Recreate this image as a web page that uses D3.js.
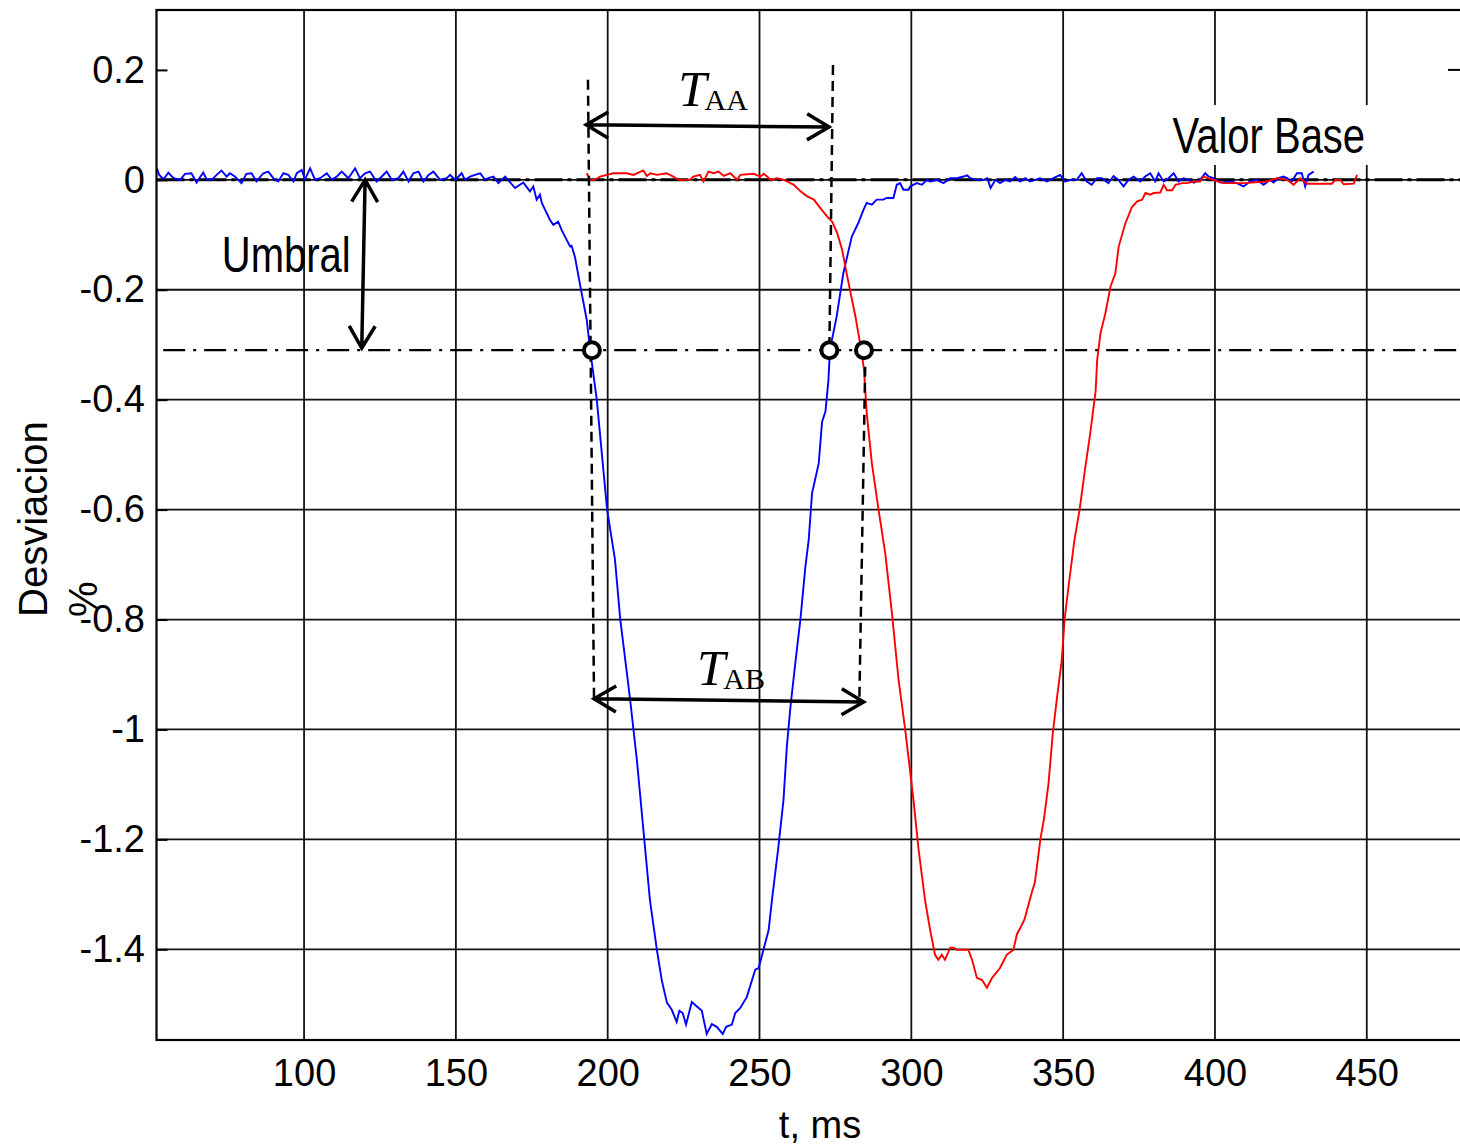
<!DOCTYPE html>
<html><head><meta charset="utf-8">
<script src="https://cdn.jsdelivr.net/npm/d3@7"></script>
<style>html,body{margin:0;padding:0;background:#fff;} svg{display:block;}</style>
</head><body>
<svg id="chart" width="1460" height="1146"></svg>
<script>
// ---- data ----
const xTicks = [100,150,200,250,300,350,400,450];
const yTicks = [0.2,0,-0.2,-0.4,-0.6,-0.8,-1,-1.2,-1.4];
const yGrid = [0,-0.2,-0.4,-0.6,-0.8,-1,-1.2,-1.4];

const blueT = [51.5,52.3,53.7,55.3,57.0,59.2,60.8,62.9,64.6,65.5,66.8,67.9,69.6,71.2,72.8,74.5,75.6,77.2,79.4,81.0,82.7,84.3,86.6,88.2,89.9,91.5,93.2,94.8,96.5,97.6,99.2,100.3,102.0,103.6,105.3,107.5,109.1,110.8,112.4,114.6,116.8,118.4,120.1,121.7,123.9,125.6,127.2,128.9,131.1,132.7,134.4,136.0,137.7,139.3,141.0,142.6,144.8,147.0,148.1,149.8,151.9,153.0,154.7,156.3,158.0,159.6,160.7,162.4,164.0,
166.2,169.5,172.2,174.4,175.5,176.6,177.7,178.3,181.0,182.1,183.7,184.8,187.6,188.1,189.2,190.8,193.1,194.2,196.4,199.8,202.4,204.1,207.4,208.5,209.6,213.9,216.2,217.8,219.5,221.1,222.7,223.6,224.7,225.8,227.7,231.0,232.6,234.3,235.9,237.9,239.0,240.9,242.0,243.6,245.8,248.6,249.7,251.3,253.0,254.1,256.1,257.9,259.0,260.2,261.8,263.5,265.1,266.2,267.3,267.8,269.5,270.6,271.7,272.7,273.2,275.4,277.6,280.4,282.5,284.2,285.3,287.0,288.6,290.8,291.9,294.1,295.2,296.3,297.4,299.1,299.6,301.8,303.5,305.1,306.2,308.4,310.6,312.8,315.0,317.2,318.4,319.4,321.6,323.8,325.0,326.1,327.7,329.2,330.9,332.5,334.2,335.8,337.5,339.1,340.8,342.4,344.6,346.8,349.0,350.6,352.8,354.5,356.1,357.8,359.4,361.1,362.7,364.9,366.6,368.2,369.9,371.5,373.2,375.4,377.0,378.7,380.3,381.4,383.1,384.7,386.4,388.0,389.7,391.3,393.0,395.1,396.8,397.9,399.5,401.7,405.0,407.2,409.4,411.6,413.8,416.0,418.2,419.3,420.9,422.6,423.7,425.3,427.0,428.6,429.7,430.8,432.5];
const blueV = [0.021,0.009,0.001,0.013,0.003,0,0.011,0.012,-0.005,0.003,0.013,0.001,0,0.009,0.017,0.006,0.012,0.006,-0.006,0.011,0.012,-0.003,0.012,0.015,0.003,-0.003,0.012,0.009,-0.003,0.012,0.018,0.001,0.021,0,0.003,0.012,0,0.006,0.015,0.003,0.021,0.003,0.012,0.015,-0.003,0.006,0.015,0,0.003,0.015,-0.003,0.012,0.015,-0.003,0.009,0.015,0,0.003,0.009,0,0.012,0,0.006,0.009,0.012,0,0.003,0.006,-0.006,
0.006,-0.015,-0.005,-0.021,-0.012,-0.036,-0.027,-0.042,-0.073,-0.082,-0.076,-0.091,-0.121,-0.120,-0.140,-0.188,-0.255,-0.309,-0.400,-0.600,-0.691,-0.798,-0.946,-1.001,-1.055,-1.310,-1.401,-1.456,-1.497,-1.510,-1.532,-1.512,-1.516,-1.537,-1.496,-1.512,-1.554,-1.536,-1.541,-1.554,-1.541,-1.537,-1.516,-1.507,-1.487,-1.437,-1.434,-1.401,-1.365,-1.310,-1.219,-1.128,-1.031,-0.958,-0.879,-0.798,-0.704,-0.655,-0.570,-0.558,-0.516,-0.440,-0.422,-0.364,-0.309,-0.249,-0.170,-0.103,-0.079,-0.055,-0.042,-0.045,-0.036,-0.036,-0.033,-0.033,-0.009,-0.006,-0.018,-0.018,-0.012,-0.006,-0.009,0,-0.003,0,-0.006,0.003,0.003,0.006,0.008,0.003,0,0,0.003,-0.015,0,-0.006,0,-0.003,0.005,-0.003,0.003,-0.003,0,0.003,-0.003,0.003,0.009,-0.003,0,0,0.012,-0.003,-0.009,0.003,0.003,-0.006,0.007,0,-0.012,0,0.006,-0.003,0.006,0.012,-0.003,0.012,-0.003,0.003,0.012,-0.003,0.003,0,-0.005,0,0.012,0.006,0.003,-0.005,-0.003,-0.006,-0.012,-0.003,0,-0.009,0,-0.005,0.003,0.006,0.003,-0.003,0.012,0.012,-0.012,0.009,0.015];

const redT = [193.1,194.2,195.8,197.5,199.7,201.9,206.3,208.5,211.7,212.9,214.0,216.2,219.4,221.6,223.3,227.1,228.2,230.4,231.5,233.2,234.9,236.5,238.2,240.4,242.6,243.7,248.1,250.3,251.4,252.5,253.6,255.8,258.0,259.1,261.3,263.5,265.7,267.9,270.1,272.3,273.9,275.6,277.2,278.9,280.0,281.6,283.3,284.4,285.3,287.0,289.2,291.4,293.6,295.8,298.0,300.7,302.4,304.5,306.2,307.8,308.9,310.0,311.1,312.8,313.9,315.0,318.8,320.0,321.6,323.3,324.9,326.6,329.2,331.4,333.6,334.8,336.0,337.3,339.6,340.7,342.5,343.7,345.2,346.6,348.0,349.5,350.5,351.9,353.7,355.4,357.2,358.9,360.7,361.2,362.3,363.9,365.6,367.2,368.3,370.5,372.7,374.4,376.0,377.1,378.7,379.8,382.0,383.1,384.2,385.9,387.0,389.2,390.8,393.0,395.1,396.2,399.5,402.8,406.1,409.4,417.1,420.4,423.7,425.9,428.1,430.3,438.5,439.6,441.3,442.4,445.7,446.8];
const redV = [0.012,0,0,0.006,0.009,0.012,0.012,0.009,0.017,0.007,0.012,0.009,0.012,0.006,0,0,0.006,0.009,-0.003,0.015,0.012,0.015,0.007,0.012,0,0.009,0.011,0.006,0.011,0.006,0,0.003,0,-0.003,-0.009,-0.021,-0.030,-0.036,-0.052,-0.067,-0.076,-0.097,-0.127,-0.176,-0.206,-0.249,-0.303,-0.345,-0.424,-0.516,-0.600,-0.679,-0.788,-0.910,-1.001,-1.128,-1.219,-1.310,-1.365,-1.410,-1.419,-1.410,-1.419,-1.397,-1.397,-1.401,-1.401,-1.419,-1.452,-1.456,-1.470,-1.452,-1.434,-1.410,-1.401,-1.372,-1.360,-1.345,-1.298,-1.278,-1.200,-1.162,-1.097,-1.006,-0.941,-0.876,-0.799,-0.734,-0.656,-0.601,-0.527,-0.462,-0.384,-0.328,-0.279,-0.243,-0.194,-0.170,-0.121,-0.079,-0.049,-0.039,-0.036,-0.024,-0.027,-0.024,-0.023,-0.009,-0.019,-0.019,-0.009,-0.006,-0.006,-0.003,-0.003,0.006,0,-0.006,-0.006,-0.006,-0.003,0.003,0,-0.009,0.003,-0.007,-0.007,0,0,-0.008,-0.007,0.009];

// annotations (data units)
const threshold = -0.31;
const thresholdStart = 53.6;
const crossT = [194.8, 273.0, 284.4];
const dashLines = [[193.5,0.182,195.5,-0.946],[274.2,0.209,273.0,-0.309],[284.8,-0.340,282.9,-0.941]];
const arrows = [[192.9,0.100,272.9,0.096],[195.5,-0.944,284.3,-0.950],[120.1,0,119.0,-0.306]];

// ---- scales ----
const W = 1460, H = 1146;
const x = d3.scaleLinear().domain([51.4, 480.7]).range([156.5, 1460]);
const y = d3.scaleLinear().domain([-1.565, 0.309]).range([1040, 10]);
const svg = d3.select('#chart');
const X0 = x.range()[0], X1 = x.range()[1], Y0 = y.range()[1], Y1 = y.range()[0];
const sans = "'Liberation Sans', Arial, sans-serif";
const serif = "'Liberation Serif', 'Times New Roman', serif";

svg.append('rect').attr('width', W).attr('height', H).attr('fill', '#fff');

// grid
const grid = svg.append('g').attr('stroke', '#111').attr('stroke-width', 1.8);
grid.selectAll('.vx').data(xTicks).join('line')
  .attr('x1', d => x(d)).attr('x2', d => x(d)).attr('y1', Y0).attr('y2', Y1);
grid.selectAll('.hy').data(yGrid).join('line')
  .attr('y1', d => y(d)).attr('y2', d => y(d)).attr('x1', X0).attr('x2', X1);

// Valor Base label box
svg.append('rect').attr('x', x(384.0)).attr('y', y(0.136))
  .attr('width', x(451.9) - x(384.0)).attr('height', y(0.027) - y(0.136)).attr('fill', '#fff');
svg.append('text').attr('transform', `translate(${x(386.0)},${y(0.049)}) scale(0.8,1)`)
  .attr('font-family', sans).attr('font-size', 50).attr('fill', '#000').text('Valor Base');

// baseline (0) dash-dot
svg.append('line').attr('x1', X0).attr('x2', X1).attr('y1', y(0)).attr('y2', y(0))
  .attr('stroke', '#000').attr('stroke-width', 3).attr('stroke-dasharray', '28,5,4,5');
// threshold dash-dot
svg.append('line').attr('x1', x(thresholdStart)).attr('x2', X1).attr('y1', y(threshold)).attr('y2', y(threshold))
  .attr('stroke', '#000').attr('stroke-width', 2.2).attr('stroke-dasharray', '22,8,3,8');

// curves
const line = d3.line().x(d => x(d[0])).y(d => y(d[1]));
svg.append('path').datum(blueT.map((t, i) => [t, blueV[i]]))
  .attr('d', line).attr('fill', 'none').attr('stroke', '#0000ff').attr('stroke-width', 1.9);
svg.append('path').datum(redT.map((t, i) => [t, redV[i]]))
  .attr('d', line).attr('fill', 'none').attr('stroke', '#ff0000').attr('stroke-width', 1.9);

// dashed vertical guides
svg.selectAll('.dl').data(dashLines).join('line')
  .attr('x1', d => x(d[0])).attr('y1', d => y(d[1])).attr('x2', d => x(d[2])).attr('y2', d => y(d[3]))
  .attr('stroke', '#000').attr('stroke-width', 2.5).attr('stroke-dasharray', '10,6');

// double arrows
function head(px, py, qx, qy) {
  const a = Math.atan2(py - qy, px - qx), L = 22, h = 13;
  const bx = px - L * Math.cos(a), by = py - L * Math.sin(a);
  const nx = -Math.sin(a), ny = Math.cos(a);
  return `M${bx + h * nx},${by + h * ny}L${px},${py}L${bx - h * nx},${by - h * ny}`;
}
const ag = svg.append('g').attr('stroke', '#000').attr('stroke-width', 3.5).attr('fill', 'none');
arrows.forEach(d => {
  const x1 = x(d[0]), y1 = y(d[1]), x2 = x(d[2]), y2 = y(d[3]);
  ag.append('path').attr('d', `M${x1},${y1}L${x2},${y2}` + head(x1, y1, x2, y2) + head(x2, y2, x1, y1));
});

// crossing circles
svg.selectAll('.cc').data(crossT).join('circle')
  .attr('cx', d => x(d)).attr('cy', y(threshold)).attr('r', 8)
  .attr('fill', '#fff').attr('stroke', '#000').attr('stroke-width', 4);

// labels T_AA, T_AB
function tLabel(tx, ty, sub) {
  const t = svg.append('text').attr('x', x(tx)).attr('y', y(ty)).attr('font-family', serif).attr('fill', '#000');
  t.append('tspan').attr('font-style', 'italic').attr('font-size', 51).text('T');
  t.append('tspan').attr('font-size', 30).attr('dy', 4).attr('dx', -2).text(sub);
}
tLabel(223.2, 0.135, 'AA');
tLabel(229.4, -0.919, 'AB');

// Umbral
svg.append('text').attr('transform', `translate(${x(72.9)},${y(-0.167)}) scale(0.8,1)`)
  .attr('font-family', sans).attr('font-size', 50).attr('fill', '#000').text('Umbral');

// axes
const fmt = d => (Math.abs(d) < 1e-9 ? '0' : String(+d.toFixed(1)));
const gx = svg.append('g').attr('transform', `translate(0,${Y1})`)
  .call(d3.axisBottom(x).tickValues(xTicks).tickSize(0).tickPadding(19).tickFormat(d3.format('d')));
const gy = svg.append('g').attr('transform', `translate(${X0},0)`)
  .call(d3.axisLeft(y).tickValues(yTicks).tickSizeInner(-11).tickSizeOuter(0).tickPadding(11.5).tickFormat(fmt));
[gx, gy].forEach(g => {
  g.select('.domain').remove();
  g.selectAll('text').attr('font-family', sans).attr('font-size', 38).attr('fill', '#000');
  g.selectAll('line').attr('stroke', '#000').attr('stroke-width', 2);
});
// right side tick at 0.2
svg.append('line').attr('x1', X1 - 12).attr('x2', X1).attr('y1', y(0.2)).attr('y2', y(0.2))
  .attr('stroke', '#000').attr('stroke-width', 2);

// frame (right edge lies just outside the picture)
svg.append('rect').attr('x', X0).attr('y', Y0).attr('width', X1 + 4 - X0).attr('height', Y1 - Y0)
  .attr('fill', 'none').attr('stroke', '#000').attr('stroke-width', 2.2);

// axis titles
svg.append('text').attr('x', 820).attr('y', 1138).attr('text-anchor', 'middle')
  .attr('font-family', sans).attr('font-size', 38).attr('fill', '#000').text('t, ms');
svg.append('text').attr('transform', 'translate(47,617) rotate(-90)')
  .attr('font-family', sans).attr('font-size', 40).attr('fill', '#000').text('Desviacion');
svg.append('text').attr('transform', 'translate(97,617) rotate(-90)')
  .attr('font-family', sans).attr('font-size', 40).attr('fill', '#000').text('%');
</script>
</body></html>
